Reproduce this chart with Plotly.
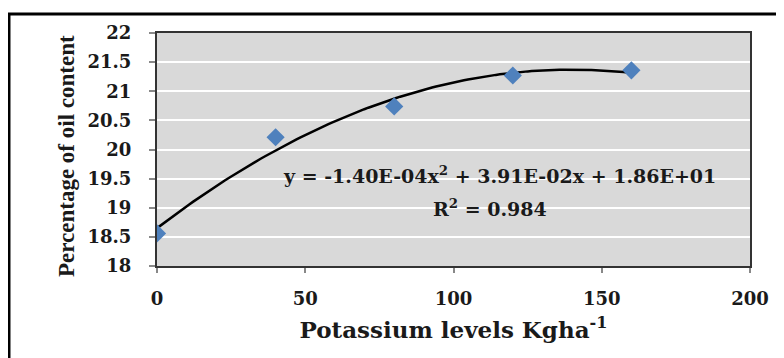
import numpy as np
import plotly.graph_objects as go

potassium = [0, 40, 80, 120, 160]
oil_content = [18.56, 20.21, 20.74, 21.27, 21.36]
x_ticks = [0, 50, 100, 150, 200]
y_ticks = [18, 18.5, 19, 19.5, 20, 20.5, 21, 21.5, 22]
y_tick_labels = ["18", "18.5", "19", "19.5", "20", "20.5", "21", "21.5", "22"]
equation_text = "y = -1.40E-04x<sup>2</sup> + 3.91E-02x + 1.86E+01"
r2_text = "R<sup>2</sup> = 0.984"
x_title = "Potassium levels Kgha<sup>-1</sup>"
y_title = "Percentage of oil content"

coef = np.polyfit(potassium, oil_content, 2)
xs = np.linspace(min(potassium), max(potassium), 120)
ys = np.polyval(coef, xs)

FONT = "DejaVu Serif"
TFONT = "Liberation Serif"
INK = "#1a1a1a"
fig = go.Figure()
fig.add_trace(go.Scatter(x=xs, y=ys, mode="lines", line=dict(color="black", width=2.5),
                         showlegend=False, hoverinfo="skip"))
fig.add_trace(go.Scatter(x=potassium, y=oil_content, mode="markers",
                         marker=dict(symbol="diamond", size=14, color="#4f81bd"),
                         showlegend=False))

fig.update_layout(
    width=776, height=350,
    margin=dict(l=149, r=34, t=25, b=92),
    paper_bgcolor="white", plot_bgcolor="#d9d9d9",
    font=dict(family=FONT, color=INK),
    xaxis=dict(range=[0, 200], tickvals=x_ticks, showgrid=False, zeroline=False,
               showline=True, linecolor="#333", linewidth=2, mirror=True,
               ticks="outside", ticklen=5, tickcolor="#888", tickwidth=1.5,
               ticklabelstandoff=10,
               tickfont=dict(family=FONT, size=18, color=INK, weight="bold"),
               title=dict(text="<b>" + x_title + "</b>",
                          font=dict(family=FONT, size=23, color=INK), standoff=14)),
    yaxis=dict(range=[18, 22], tickvals=y_ticks, ticktext=y_tick_labels,
               showgrid=True, gridcolor="white", gridwidth=1.5, zeroline=False,
               showline=True, linecolor="#333", linewidth=2, mirror=True,
               ticks="outside", ticklen=6, tickcolor="#888", tickwidth=1.5,
               ticklabelstandoff=14,
               tickfont=dict(family=FONT, size=18, color=INK, weight="bold")),
    annotations=[
        dict(x=-0.177, y=0.47, xref="paper", yref="paper", text="<b>" + y_title + "</b>",
             textangle=-90, showarrow=False, font=dict(family=TFONT, size=23, color=INK)),
        dict(x=0.578, y=0.39, xref="paper", yref="paper", text="<b>" + equation_text + "</b>",
             showarrow=False, font=dict(family=FONT, size=19, color=INK)),
        dict(x=0.562, y=0.19, xref="paper", yref="paper", text="<b>" + r2_text + "</b>",
             showarrow=False, font=dict(family=FONT, size=19, color=INK)),
    ],
    shapes=[
        dict(type="rect", xref="paper", yref="paper", x0=-0.2496, x1=1.2, y0=-0.6, y1=1.0815,
             line=dict(color="black", width=3), fillcolor="rgba(0,0,0,0)", layer="below"),
    ],
)

fig.write_html("out.html")
